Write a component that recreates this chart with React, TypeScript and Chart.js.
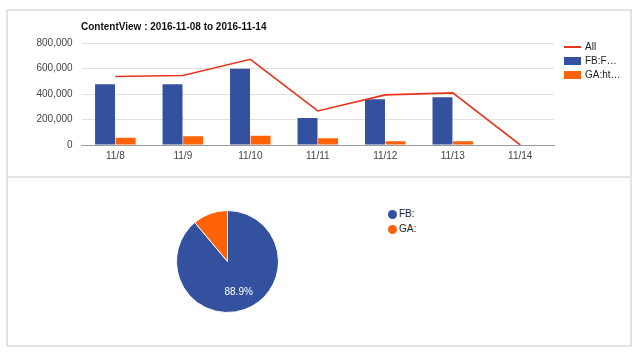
import React, { useEffect, useRef } from "react";
import { Chart, registerables } from "chart.js";

Chart.register(...registerables);

const categories = ["11/8", "11/9", "11/10", "11/11", "11/12", "11/13", "11/14"];
const allValues = [537000, 545000, 672000, 267000, 393000, 409000, 0];
const fbValues = [477000, 477000, 598000, 212000, 359000, 375000, 0];
const gaValues = [57000, 68000, 73000, 53000, 29000, 29000, 0];
const seriesNames = ["All", "FB:F…", "GA:ht…"];
const yTicks = [0, 200000, 400000, 600000, 800000];
const pieLabels = ["FB:", "GA:"];
const pieValues = [88.9, 11.1];
const titleText = "ContentView : 2016-11-08 to 2016-11-14";

const BLUE = "#34519f";
const ORANGE = "#ff6207";
const RED = "#e8341c";
const FONT = "'Liberation Sans', Arial, Helvetica, sans-serif";

export default function App() {
  const barRef = useRef<HTMLCanvasElement | null>(null);
  const pieRef = useRef<HTMLCanvasElement | null>(null);

  useEffect(() => {
    const barChart = new Chart(barRef.current!, {
      type: "bar",
      data: {
        labels: categories,
        datasets: [
          {
            type: "line",
            label: seriesNames[0],
            data: allValues,
            borderColor: RED,
            backgroundColor: RED,
            borderWidth: 1.6,
            pointRadius: 0,
            tension: 0,
            order: 0,
          } as any,
          {
            label: seriesNames[1],
            data: fbValues,
            backgroundColor: BLUE,
            categoryPercentage: 0.61,
            barPercentage: 0.97,
            order: 1,
          },
          {
            label: seriesNames[2],
            data: gaValues,
            backgroundColor: ORANGE,
            categoryPercentage: 0.61,
            barPercentage: 0.97,
            order: 1,
          },
        ],
      },
      options: {
        responsive: false,
        animation: false,
        devicePixelRatio: 1,
        layout: { padding: { left: 0, right: 86, top: 43, bottom: 0 } },
        plugins: { legend: { display: false }, tooltip: { enabled: false }, title: { display: false } },
        scales: {
          x: {
            grid: { display: false, drawTicks: false },
            border: { display: true, color: "#9a9a9a", width: 1 },
            ticks: { color: "#444", font: { family: FONT, size: 10 }, padding: 5, maxRotation: 0 },
            afterFit: (s: any) => {
              s.height = 32;
            },
          },
          y: {
            min: yTicks[0],
            max: yTicks[yTicks.length - 1],
            afterBuildTicks: (s: any) => {
              s.ticks = yTicks.map((v) => ({ value: v }));
            },
            grid: {
              drawTicks: false,
              color: (c: any) => (c.tick && c.tick.value === 0 ? "#9a9a9a" : "#e2e2e2"),
              lineWidth: 1,
            },
            border: { display: false },
            ticks: {
              color: "#444",
              font: { family: FONT, size: 10 },
              padding: 9,
              callback: (v: any) => Number(v).toLocaleString("en-US"),
            },
            afterFit: (s: any) => {
              s.width = 81.6;
            },
          },
        },
      },
    });

    const pctPlugin = {
      id: "pctLabel",
      afterDatasetsDraw(chart: any) {
        const meta = chart.getDatasetMeta(0);
        const ctx = chart.ctx;
        const total = pieValues.reduce((a, b) => a + b, 0);
        meta.data.forEach((arc: any, i: number) => {
          const share = (pieValues[i] / total) * 100;
          if (share < 20) return;
          const { x, y, startAngle, endAngle, outerRadius } = arc.getProps(
            ["x", "y", "startAngle", "endAngle", "outerRadius"],
            true
          );
          const mid = (startAngle + endAngle) / 2;
          const d = outerRadius * 0.64;
          ctx.save();
          ctx.fillStyle = "#ffffff";
          ctx.font = `10px ${FONT}`;
          ctx.textAlign = "center";
          ctx.textBaseline = "middle";
          ctx.fillText(share.toFixed(1) + "%", x + Math.cos(mid) * d, y + Math.sin(mid) * d);
          ctx.restore();
        });
      },
    };

    const pieChart = new Chart(pieRef.current!, {
      type: "pie",
      data: {
        labels: pieLabels,
        datasets: [
          {
            data: pieValues,
            backgroundColor: [BLUE, ORANGE],
            borderColor: "#ffffff",
            borderWidth: 1,
          },
        ],
      },
      options: {
        responsive: false,
        animation: false,
        devicePixelRatio: 1,
        layout: { padding: 0 },
        plugins: { legend: { display: false }, tooltip: { enabled: false } },
      },
      plugins: [pctPlugin],
    });

    return () => {
      barChart.destroy();
      pieChart.destroy();
    };
  }, []);

  const txt: React.CSSProperties = {
    position: "absolute",
    fontFamily: FONT,
    fontSize: 10,
    color: "#222",
    lineHeight: "12px",
    whiteSpace: "nowrap",
  };

  return (
    <div style={{ position: "absolute", left: 0, top: 0, width: 640, height: 355, background: "#fff", overflow: "hidden" }}>
      <div
        style={{
          position: "absolute",
          left: 6,
          top: 9,
          width: 622,
          height: 334,
          border: "2px solid #e4e4e4",
          boxSizing: "content-box",
        }}
      />
      <div style={{ position: "absolute", left: 6, top: 176, width: 624, height: 2, background: "#e4e4e4" }} />
      <canvas ref={barRef} width={640} height={177} style={{ position: "absolute", left: 0, top: 0 }} />
      <div style={{ ...txt, left: 81, top: 21, fontWeight: "bold", color: "#111" }}>{titleText}</div>

      <div style={{ position: "absolute", left: 564, top: 46, width: 17, height: 2, background: RED }} />
      <div style={{ ...txt, left: 585, top: 41 }}>{seriesNames[0]}</div>
      <div style={{ position: "absolute", left: 564, top: 57, width: 17, height: 8, background: BLUE }} />
      <div style={{ ...txt, left: 585, top: 55 }}>{seriesNames[1]}</div>
      <div style={{ position: "absolute", left: 564, top: 71, width: 17, height: 8, background: ORANGE }} />
      <div style={{ ...txt, left: 585, top: 69 }}>{seriesNames[2]}</div>

      <canvas ref={pieRef} width={103} height={103} style={{ position: "absolute", left: 176, top: 210 }} />

      <div style={{ position: "absolute", left: 388, top: 209.5, width: 9, height: 9, borderRadius: "50%", background: BLUE }} />
      <div style={{ ...txt, left: 399, top: 208 }}>{pieLabels[0]}</div>
      <div style={{ position: "absolute", left: 388, top: 224.5, width: 9, height: 9, borderRadius: "50%", background: ORANGE }} />
      <div style={{ ...txt, left: 399, top: 223 }}>{pieLabels[1]}</div>
    </div>
  );
}
